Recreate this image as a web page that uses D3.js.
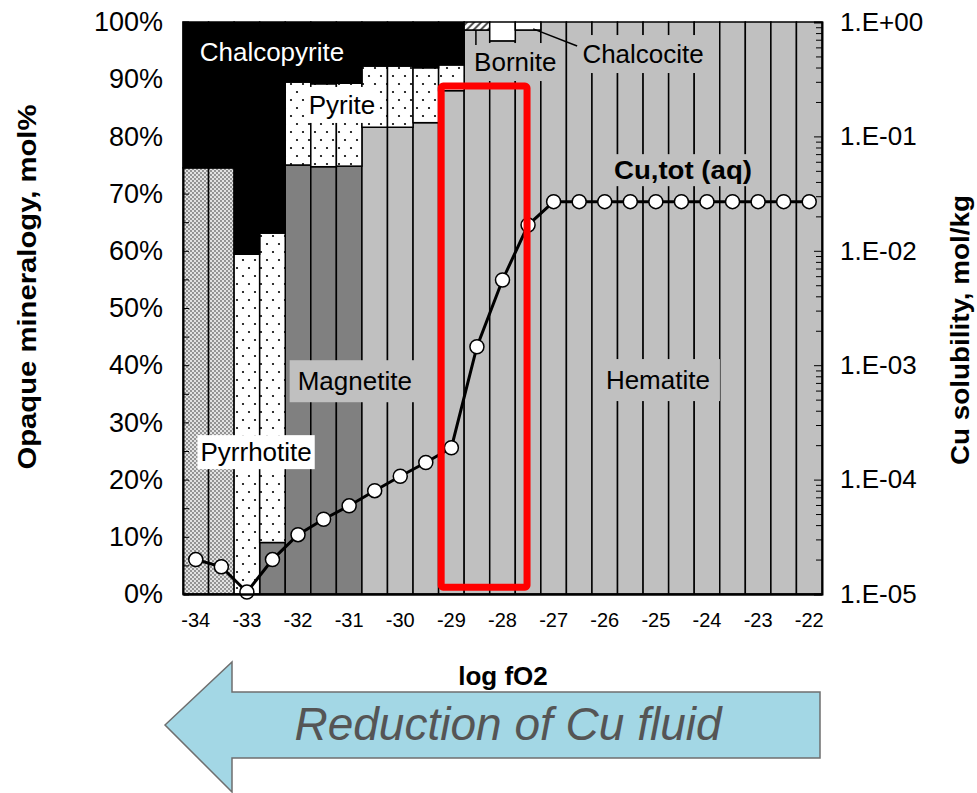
<!DOCTYPE html>
<html><head><meta charset="utf-8">
<script src="https://cdn.jsdelivr.net/npm/d3@7"></script>
<style>body{margin:0;background:#fff}svg{display:block}text{font-family:"Liberation Sans",Arial,sans-serif}</style>
</head><body><svg id="c" width="977" height="793"></svg>
<script>
// ---- data ----
const logfO2 = [-34,-33.5,-33,-32.5,-32,-31.5,-31,-30.5,-30,-29.5,-29,-28.5,-28,-27.5,-27,-26.5,-26,-25.5,-25,-24.5,-24,-23.5,-23,-22.5,-22];
const xTickLabels = [-34,-33,-32,-31,-30,-29,-28,-27,-26,-25,-24,-23,-22];
// mineral fractions (mol fraction) per log fO2 step
const pyrrhotite   = [0.745,0.745,0,0,0,0,0,0,0,0,0,0,0,0,0,0,0,0,0,0,0,0,0,0,0];
const magnetite    = [0,0,0,0.090,0.750,0.747,0.748,0,0,0,0,0,0,0,0,0,0,0,0,0,0,0,0,0,0];
const hematite     = [0,0,0,0,0,0,0,0.816,0.816,0.824,0.880,0.986,0.967,0.986,1,1,1,1,1,1,1,1,1,1,1];
const pyrite       = [0,0,0.594,0.541,0.145,0.145,0.145,0.107,0.107,0.096,0.045,0,0,0,0,0,0,0,0,0,0,0,0,0,0];
const chalcopyrite = [0.255,0.255,0.406,0.369,0.105,0.108,0.107,0.077,0.077,0.080,0.075,0,0,0,0,0,0,0,0,0,0,0,0,0,0];
const bornite      = [0,0,0,0,0,0,0,0,0,0,0,0.014,0,0,0,0,0,0,0,0,0,0,0,0,0];
const chalcocite   = [0,0,0,0,0,0,0,0,0,0,0,0,0.033,0.014,0,0,0,0,0,0,0,0,0,0,0];
// total dissolved Cu, mol/kg
const cuTot = [2.0e-5,1.73e-5,1.04e-5,2.0e-5,3.3e-5,4.5e-5,5.9e-5,8.0e-5,1.07e-4,1.41e-4,1.9e-4,1.45e-3,5.56e-3,1.68e-2,2.69e-2,2.69e-2,2.69e-2,2.69e-2,2.69e-2,2.69e-2,2.69e-2,2.69e-2,2.69e-2,2.69e-2,2.69e-2];
const leftTicks = [0,0.05,0.1,0.15,0.2,0.25,0.3,0.35,0.4,0.45,0.5,0.55,0.6,0.65,0.7,0.75,0.8,0.85,0.9,0.95,1];
const rightTicks = [1e-5,1e-4,1e-3,1e-2,1e-1,1];
const seriesKeys = ["pyrrhotite","magnetite","hematite","pyrite","chalcopyrite","bornite","chalcocite"];

const rows = logfO2.map((x,i)=>({x, pyrrhotite:pyrrhotite[i], magnetite:magnetite[i], hematite:hematite[i], pyrite:pyrite[i], chalcopyrite:chalcopyrite[i], bornite:bornite[i], chalcocite:chalcocite[i], cu:cuTot[i]}));

// ---- layout ----
const L=183, R=822, T=22, B=594;
const svg = d3.select("#c");
const x = d3.scaleBand().domain(logfO2).range([L,R]).padding(0);
const xLin = d3.scaleLinear().domain([-34.25,-21.75]).range([L,R]);
const y = d3.scaleLinear().domain([0,1]).range([B,T]);
const yR = d3.scaleLog().domain([1e-5,1]).range([B,T]);

// ---- patterns ----
const defs = svg.append("defs");
const pPo = defs.append("pattern").attr("id","po").attr("patternUnits","userSpaceOnUse").attr("width",4).attr("height",4);
pPo.append("rect").attr("width",4).attr("height",4).attr("fill","#e2e2e2");
pPo.append("circle").attr("cx",1).attr("cy",1).attr("r",0.9).attr("fill","#6e6e6e");
pPo.append("circle").attr("cx",3).attr("cy",3).attr("r",0.9).attr("fill","#6e6e6e");
const pPy = defs.append("pattern").attr("id","py").attr("patternUnits","userSpaceOnUse").attr("width",12).attr("height",16);
pPy.append("rect").attr("width",12).attr("height",16).attr("fill","#fff");
pPy.append("circle").attr("cx",3).attr("cy",4).attr("r",1.1).attr("fill","#000");
pPy.append("circle").attr("cx",9).attr("cy",12).attr("r",1.1).attr("fill","#000");
const pBn = defs.append("pattern").attr("id","bn").attr("patternUnits","userSpaceOnUse").attr("width",5).attr("height",5).attr("patternTransform","rotate(45)");
pBn.append("rect").attr("width",5).attr("height",5).attr("fill","#fff");
pBn.append("rect").attr("width",2).attr("height",5).attr("fill","#555");

const fills = {pyrrhotite:"url(#po)", magnetite:"#808080", hematite:"#c0c0c0", pyrite:"url(#py)", chalcopyrite:"#000", bornite:"url(#bn)", chalcocite:"#fff"};

// ---- stacked bars ----
const stacked = d3.stack().keys(seriesKeys)(rows);
svg.append("g").selectAll("g").data(stacked).join("g")
  .attr("fill", d=>fills[d.key])
  .selectAll("rect").data(d=>d.filter(s=>s[1]-s[0]>0)).join("rect")
  .attr("x", d=>x(d.data.x)).attr("width", x.bandwidth())
  .attr("y", d=>y(d[1])).attr("height", d=>y(d[0])-y(d[1]))
  .attr("stroke","#000").attr("stroke-width",1.5);

// ---- annotation labels ----
function label(txt, xv, yv, opts){
  const g = svg.append("g");
  const t = g.append("text").attr("x", xLin(xv)).attr("y", y(yv)).attr("text-anchor","middle")
    .attr("dominant-baseline","central").attr("font-size", opts.size||26)
    .attr("font-weight", opts.bold?"bold":"normal").attr("fill", opts.color||"#000").text(txt);
  if (opts.len) t.attr("textLength", opts.len).attr("lengthAdjust","spacingAndGlyphs");
  if (opts.bg){
    const bb = t.node().getBBox();
    g.insert("rect","text").attr("x", bb.x-(opts.padX||5)).attr("y", bb.y-(opts.padY||3))
      .attr("width", bb.width+2*(opts.padX||5)).attr("height", bb.height+2*(opts.padY||3)).attr("fill", opts.bg);
  }
  return g;
}
label("Chalcopyrite", -32.51, 0.948, {color:"#fff"});
label("Pyrite", -31.14, 0.855, {bg:"#fff", padX:3, padY:0});
label("Magnetite", -30.89, 0.372, {bg:"#c0c0c0", padX:8, padY:6});
label("Pyrrhotite", -32.82, 0.248, {bg:"#fff", padX:3, padY:2});
label("Hematite", -24.96, 0.374, {bg:"#c0c0c0", padX:10, padY:6});
label("Bornite", -27.75, 0.930, {bg:"#c0c0c0", padX:6, padY:4});
label("Chalcocite", -25.25, 0.944, {bg:"#c0c0c0", padX:6, padY:4});
label("Cu,tot (aq)", -24.47, 0.741, {bg:"#c0c0c0", bold:true, size:25, len:138, padX:4, padY:2});

// leader lines
const leaders = [{x1:-28.52,y1:0.986,x2:-28.52,y2:0.960},{x1:-27.40,y1:0.988,x2:-26.54,y2:0.958}];
svg.append("g").selectAll("line").data(leaders).join("line")
  .attr("x1",d=>xLin(d.x1)).attr("y1",d=>y(d.y1)).attr("x2",d=>xLin(d.x2)).attr("y2",d=>y(d.y2))
  .attr("stroke","#000").attr("stroke-width",1.5);

// ---- Cu line ----
svg.append("path").datum(rows)
  .attr("d", d3.line().x(d=>x(d.x)+x.bandwidth()/2).y(d=>yR(d.cu)))
  .attr("fill","none").attr("stroke","#000").attr("stroke-width",3);
svg.append("g").selectAll("circle").data(rows).join("circle")
  .attr("cx", d=>x(d.x)+x.bandwidth()/2).attr("cy", d=>yR(d.cu)).attr("r",7)
  .attr("fill","#fff").attr("stroke","#000").attr("stroke-width",1.5);

// ---- highlight box ----
const highlight = {x0:-29.2, x1:-27.52, y0:0.012, y1:0.888};
svg.append("rect").attr("x", xLin(highlight.x0)).attr("y", y(highlight.y1))
  .attr("width", xLin(highlight.x1)-xLin(highlight.x0)).attr("height", y(highlight.y0)-y(highlight.y1))
  .attr("rx",2).attr("fill","none").attr("stroke","#ff0000").attr("stroke-width",7);

// ---- axes ----
const axL = svg.append("g").attr("transform",`translate(${L},0)`)
  .call(d3.axisLeft(y).tickValues(leftTicks).tickSize(-6).tickPadding(20)
    .tickFormat(d=>Math.round(d*100)%10===0 ? Math.round(d*100)+"%" : ""));
axL.select(".domain").attr("stroke-width",2);
axL.selectAll("text").attr("font-size",27).attr("font-family","Liberation Sans, Arial, sans-serif");

const minor = [];
rightTicks.slice(0,-1).forEach(dec=>{ for(let k=2;k<=9;k++) minor.push(dec*k); });
const axR = svg.append("g").attr("transform",`translate(${R},0)`)
  .call(d3.axisRight(yR).tickValues(rightTicks).tickSize(-8).tickPadding(18)
    .tickFormat(d=>{const e=Math.round(Math.log10(d)); return "1.E"+(e<0?"-":"+")+String(Math.abs(e)).padStart(2,"0");}));
axR.select(".domain").attr("stroke-width",2);
axR.selectAll("text").attr("font-size",26).attr("font-family","Liberation Sans, Arial, sans-serif");
svg.append("g").attr("transform",`translate(${R},0)`)
  .call(d3.axisRight(yR).tickValues(minor).tickSize(-6).tickFormat(""))
  .select(".domain").remove();

const axB = svg.append("g").attr("transform",`translate(0,${B})`)
  .call(d3.axisBottom(x).tickValues(xTickLabels).tickSize(0).tickPadding(19));
axB.select(".domain").attr("stroke-width",2.5);
axB.selectAll("text").attr("font-size",20).attr("font-family","Liberation Sans, Arial, sans-serif");

// ---- titles ----
svg.append("text").attr("transform",`translate(27,287) rotate(-90)`).attr("text-anchor","middle")
  .attr("dominant-baseline","central").attr("font-size",26).attr("font-weight","bold")
  .attr("textLength",365).attr("lengthAdjust","spacingAndGlyphs").text("Opaque mineralogy, mol%");
svg.append("text").attr("transform",`translate(960,330) rotate(-90)`).attr("text-anchor","middle")
  .attr("dominant-baseline","central").attr("font-size",26).attr("font-weight","bold")
  .attr("textLength",270).attr("lengthAdjust","spacingAndGlyphs").text("Cu solubility, mol/kg");
svg.append("text").attr("x", 503).attr("y",676).attr("text-anchor","middle")
  .attr("dominant-baseline","central").attr("font-size",26).attr("font-weight","bold").text("log fO2");

// ---- arrow ----
const arrowPts = [[165,725],[232,662],[232,692],[820,692],[820,758],[232,758],[232,792],[165,725]];
svg.append("path").attr("d", d3.line()(arrowPts)+"Z").attr("fill","#a3d7e5").attr("stroke","#6f6f6f").attr("stroke-width",1.5);
svg.append("text").attr("x",508).attr("y",724).attr("text-anchor","middle").attr("dominant-baseline","central")
  .attr("font-size",46).attr("font-style","italic").attr("fill","#555").text("Reduction of Cu fluid");
</script></body></html>
